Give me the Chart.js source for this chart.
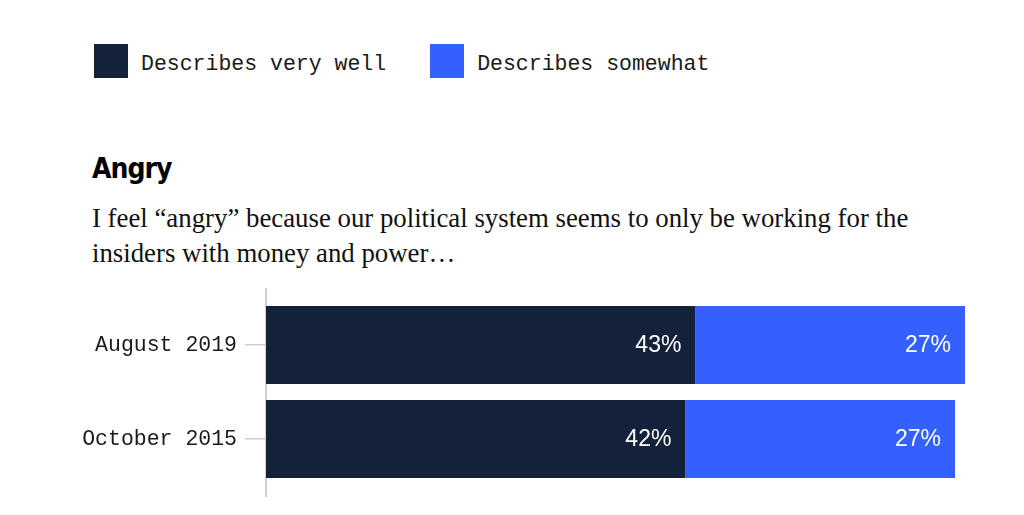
<!DOCTYPE html>
<html>
<head>
<meta charset="utf-8">
<script src="https://cdn.jsdelivr.net/npm/chart.js@4"></script>
<style>
  body { margin: 0; background: #fff; width: 1024px; height: 515px; overflow: hidden; position: relative; }
  #legend { position: absolute; left: 94px; top: 44px; height: 34px; display: flex; align-items: center;
            font-family: "Liberation Mono", "DejaVu Sans Mono", monospace; font-size: 21.5px; color: #1a1a1a; }
  #legend .sw { width: 34px; height: 34px; margin-right: 13px; }
  #legend .item { display: flex; align-items: center; margin-right: 44px; }
  #legend span { padding-top: 5px; }
  #title { position: absolute; left: 92px; top: 155px; margin: 0; line-height: 28px; letter-spacing: -1px;
           font-family: "DejaVu Sans Condensed", "Liberation Sans", sans-serif; font-weight: bold; font-size: 28px; color: #000; }
  #sub { position: absolute; left: 92px; top: 201px; width: 830px; margin: 0; line-height: 35px;
         font-family: "Liberation Serif", serif; font-size: 26.8px; color: #111; }
  #wrap { position: absolute; left: 0; top: 277px; width: 1024px; height: 238px; }
</style>
</head>
<body>
<div id="legend"></div>
<h2 id="title">Angry</h2>
<p id="sub">I feel “angry” because our political system seems to only be working for the insiders with money and power…</p>
<div id="wrap"><canvas id="grafik"></canvas></div>
<script>
// data dari gambar
var categories = ['August 2019', 'October 2015'];
var seriesNames = ['Describes very well', 'Describes somewhat'];
var veryWell = [43, 42];
var somewhat = [27, 27];
var colors = ['#13213a', '#3360ff'];

// legenda html
var legend = document.getElementById('legend');
seriesNames.forEach(function(name, i) {
    var item = document.createElement('div');
    item.className = 'item';
    item.innerHTML = '<div class="sw" style="background:' + colors[i] + '"></div><span>' + name + '</span>';
    legend.appendChild(item);
});

// garis sumbu vertikal, sedikit lebih panjang dari area grafik
var axisLine = {
    id: 'axisLine',
    beforeDatasetsDraw: function(chart) {
        var c = chart.ctx, a = chart.chartArea;
        c.save();
        c.strokeStyle = '#d0d0d0';
        c.lineWidth = 2;
        c.beginPath();
        c.moveTo(a.left, a.top - 10);
        c.lineTo(a.left, a.bottom + 11);
        c.stroke();
        c.restore();
    }
};

// label nilai di dalam batang
var valueLabels = {
    id: 'valueLabels',
    afterDatasetsDraw: function(chart) {
        var c = chart.ctx;
        c.save();
        c.fillStyle = '#fff';
        c.font = '23px "Liberation Sans", Arial, sans-serif';
        c.textAlign = 'right';
        c.textBaseline = 'middle';
        chart.data.datasets.forEach(function(ds, i) {
            chart.getDatasetMeta(i).data.forEach(function(bar, j) {
                c.fillText(ds.data[j] + '%', bar.x - 14, bar.y + 1);
            });
        });
        c.restore();
    }
};

var ctx = document.getElementById('grafik').getContext('2d');
var myChart = new Chart(ctx, {
    type: 'bar',
    data: {
        labels: categories,
        datasets: [{
            label: seriesNames[0],
            data: veryWell,
            backgroundColor: colors[0],
            barPercentage: 0.83,
            categoryPercentage: 1
        }, {
            label: seriesNames[1],
            data: somewhat,
            backgroundColor: colors[1],
            barPercentage: 0.83,
            categoryPercentage: 1
        }]
    },
    options: {
        indexAxis: 'y',
        responsive: true,
        maintainAspectRatio: false,
        animation: false,
        layout: { padding: { top: 0, bottom: 29, right: 59, left: 0 } },
        plugins: {
            legend: { display: false },
            tooltip: { enabled: false }
        },
        scales: {
            x: {
                stacked: true,
                min: 0,
                max: 70,
                display: false
            },
            y: {
                stacked: true,
                border: { display: false },
                grid: {
                    display: true,
                    offset: false,
                    drawOnChartArea: false,
                    drawTicks: true,
                    tickLength: 21,
                    color: '#cccccc',
                    lineWidth: 1.5
                },
                ticks: {
                    padding: 8,
                    color: '#1a1a1a',
                    font: { family: '"Liberation Mono", "DejaVu Sans Mono", monospace', size: 21.5 }
                },
                afterFit: function(scale) { scale.width = 266; }
            }
        }
    },
    plugins: [axisLine, valueLabels]
});
</script>
</body>
</html>
